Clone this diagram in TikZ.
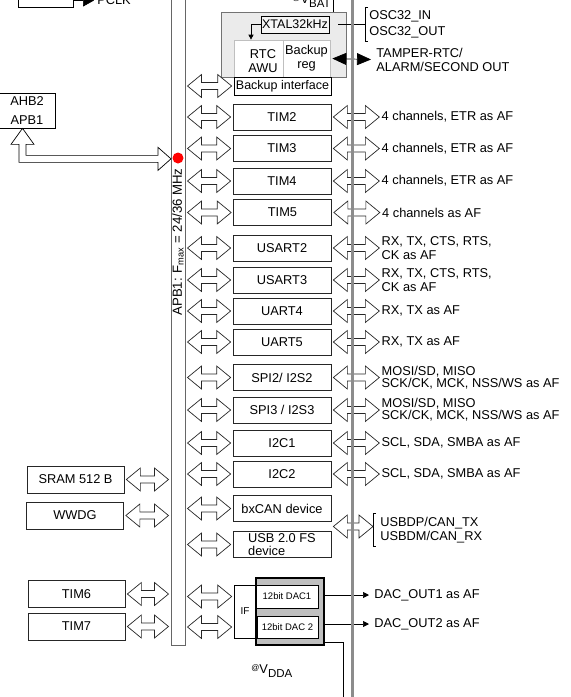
\documentclass[tikz,border=0pt]{standalone}
\usepackage{fontspec}
\setmainfont{Liberation Sans}
\usetikzlibrary{positioning,calc,arrows.meta}
\tikzset{
  box/.style={draw=black!85, fill=white, minimum width=98pt, minimum height=26pt, inner sep=1pt},
  lbox/.style={box, minimum width=97pt, minimum height=27pt},
  sig/.style={inner sep=0pt, align=left, anchor=west},
  dacbox/.style={draw, fill=white, inner sep=0pt, font=\fontsize{9.5}{11}\selectfont},
  fat/.style={draw=black!85, fill=white, to path={let \p1=(\tikztostart), \p2=(\tikztotarget) in
    ({\x1+2pt},\y1) -- ({\x1+16pt},{\y1+11.5pt}) -- ({\x1+16pt},{\y1+3.5pt}) -- ({\x2-16pt},{\y1+3.5pt})
    -- ({\x2-16pt},{\y1+11.5pt}) -- ({\x2-2pt},\y1) -- ({\x2-16pt},{\y1-11.5pt}) -- ({\x2-16pt},{\y1-3.5pt})
    -- ({\x1+16pt},{\y1-3.5pt}) -- ({\x1+16pt},{\y1-11.5pt}) -- cycle}},
}
\begin{document}
\begin{tikzpicture}[x=1pt, y=-1pt, line width=0.7pt,
    every node/.style={font=\fontsize{12.8}{14}\selectfont}]
  \useasboundingbox (0,0) rectangle (571,697);
  \clip (0,0) rectangle (571,697);

  % top, cut off
  \node[draw, minimum width=55pt, minimum height=26pt] (clk) at (45.5,-6) {};
  \node[sig] (pclk) at (97,0.5) {PCLK};
  \draw[-{Triangle[length=11pt,width=12pt]}] (clk.east |- pclk.west) -- ([xshift=-3pt]pclk.west);
  \node[anchor=base east, inner sep=0pt] (vbat) at (331,3) {{\footnotesize\raisebox{3pt}{@}}V\raisebox{-4pt}{\fontsize{11.5}{12}\selectfont BAT}};

  % backup domain
  \node[draw=black!55, fill=black!8, minimum width=125pt, minimum height=65pt] (bkp) at (283.5,44.5) {};
  \draw ([xshift=49.5pt]bkp.north) -- ++(0,-20);
  \node[draw, fill=black!4, minimum width=68pt, minimum height=17pt, inner sep=0pt, font=\fontsize{12.5}{14}\selectfont] (xtal) at (295,24.5) {XTAL32kHz};
  \node[draw=black!25, fill=white, minimum width=49pt, minimum height=37pt] (rtc) at (258.5,58.5) {};
  \node[align=center, inner sep=0pt] (rtctxt) at (263,61) {RTC\\AWU};
  \node[draw=black!25, fill=white, minimum width=47pt, minimum height=37pt, inner sep=0pt, align=center] (reg) at (306.5,58.5) {Backup\\reg};
  \node[draw, fill=white, minimum width=97pt, minimum height=18pt, inner sep=0pt, font=\fontsize{12.5}{14}\selectfont] (bif) at (282.5,86) {Backup interface};
  \draw[-{Triangle[length=5pt,width=5pt]}] (xtal.west) -| ([xshift=-7.5pt]rtc.north);
  \node[sig, inner ysep=3pt] (osc) at (369,24) {OSC32\_IN\\[2pt]OSC32\_OUT};
  \draw ([xshift=-1pt]osc.north west) -- ++(-3,0) |- ([xshift=-1pt]osc.south west);
  \draw ([xshift=9pt]xtal.east) -- ([xshift=-4pt]osc.west |- xtal.east);
  \node[sig] (tamp) at (376,59.5) {TAMPER-RTC/\\ALARM/SECOND OUT};
  \draw[{Triangle[length=14pt,width=12pt]}-{Triangle[length=14pt,width=12pt]}, shorten <=2pt] (reg.east) -- ([xshift=-5pt]tamp.west);

  % APB1 bus
  \node[draw=black!60, line width=1pt, minimum width=14pt, minimum height=655pt, inner sep=0pt] (bus) at (178,317.5) {};
  \node[rotate=90, font=\fontsize{13.2}{15}\selectfont] (apb) at (178,242) {APB1: F\textsubscript{max} = 24/36 MHz};
  \node[circle, fill=red, minimum size=11pt, inner sep=0pt] (dot) at (178,158) {};
  \node[draw, minimum width=56pt, minimum height=35pt, inner sep=0pt, align=center] (ahb) at (27,110.5) {AHB2\\[5pt]APB1};
  \draw[fill=white] ([xshift=-4.5pt]ahb.south) -- ++(11.5,16) -- ++(-8,0) -- ++(0,11) -- ++(132,0) -- ++(0,-8)
    -- ++(13,11.5) -- ++(-13,11.5) -- ++(0,-8) -- ++(-139,0) -- ++(0,-18) -- ++(-8,0) -- cycle;

  % peripherals
  \node[box] (tim2) at (282,117) {TIM2};
  \node[box] (tim3) at (282,148.5) {TIM3};
  \node[box] (tim4) at (282,181) {TIM4};
  \node[box] (tim5) at (282.5,212.5) {TIM5};
  \node[box] (usart2) at (282,248) {USART2};
  \node[box] (usart3) at (282,280) {USART3};
  \node[box] (uart4) at (282,311) {UART4};
  \node[box] (uart5) at (282,342) {UART5};
  \node[box] (spi2) at (282,377.5) {SPI2/ I2S2};
  \node[box] (spi3) at (282,410) {SPI3 / I2S3};
  \node[box] (i2c1) at (282,443) {I2C1};
  \node[box] (i2c2) at (282,474) {I2C2};
  \node[box] (can) at (282,508.5) {bxCAN device};
  \node[box, align=left, font=\fontsize{12.8}{13}\selectfont] (usb) at (282,544.5) {USB 2.0 FS\\device};

  \node[sig, right=50pt of tim2] (tim2af) {4 channels, ETR as AF};
  \node[sig, right=50pt of tim3] (tim3af) {4 channels, ETR as AF};
  \node[sig, right=50pt of tim4] (tim4af) {4 channels, ETR as AF};
  \node[sig, right=50pt of tim5] (tim5af) {4 channels as AF};
  \node[sig, right=50pt of usart2] (usart2af) {RX, TX, CTS, RTS,\\CK as AF};
  \node[sig, right=50pt of usart3] (usart3af) {RX, TX, CTS, RTS,\\CK as AF};
  \node[sig, right=50pt of uart4] (uart4af) {RX, TX as AF};
  \node[sig, right=50pt of uart5] (uart5af) {RX, TX as AF};
  \node[sig, right=50pt of spi2] (spi2af) {MOSI/SD, MISO\\[-2pt]SCK/CK, MCK, NSS/WS as AF};
  \node[sig, right=50pt of spi3] (spi3af) {MOSI/SD, MISO\\[-2pt]SCK/CK, MCK, NSS/WS as AF};
  \node[sig, right=50pt of i2c1] (i2c1af) {SCL, SDA, SMBA as AF};
  \node[sig, right=50pt of i2c2] (i2c2af) {SCL, SDA, SMBA as AF};
  \node[sig, inner ysep=3pt] (canaf) at (380,530) {USBDP/CAN\_TX\\USBDM/CAN\_RX};
  \draw ([xshift=-4pt]canaf.north west) -- ++(-3,0) |- ([xshift=-4pt]canaf.south west);

  \draw[fat] (bus.east |- bif.west) to (bif.west);
  \draw[fat] (bus.east |- tim2.west) to (tim2.west);
  \draw[fat] (bus.east |- tim3.west) to (tim3.west);
  \draw[fat] (bus.east |- tim4.west) to (tim4.west);
  \draw[fat] (bus.east |- tim5.west) to (tim5.west);
  \draw[fat] (bus.east |- usart2.west) to (usart2.west);
  \draw[fat] (bus.east |- usart3.west) to (usart3.west);
  \draw[fat] (bus.east |- uart4.west) to (uart4.west);
  \draw[fat] (bus.east |- uart5.west) to (uart5.west);
  \draw[fat] (bus.east |- spi2.west) to (spi2.west);
  \draw[fat] (bus.east |- spi3.west) to (spi3.west);
  \draw[fat] (bus.east |- i2c1.west) to (i2c1.west);
  \draw[fat] (bus.east |- i2c2.west) to (i2c2.west);
  \draw[fat] (bus.east |- can.west) to (can.west);
  \draw[fat] (bus.east |- usb.west) to (usb.west);

  \draw[fat] (tim2.east) to (tim2af.west);
  \draw[fat] (tim3.east) to (tim3af.west);
  \draw[fat] (tim4.east) to (tim4af.west);
  \draw[fat] (tim5.east) to (tim5af.west);
  \draw[fat] (usart2.east) to (usart2af.west);
  \draw[fat] (usart3.east) to (usart3af.west);
  \draw[fat] (uart4.east) to (uart4af.west);
  \draw[fat] (uart5.east) to (uart5af.west);
  \draw[fat] (spi2.east) to (spi2af.west);
  \draw[fat] (spi3.east) to (spi3af.west);
  \draw[fat] (i2c1.east) to (i2c1af.west);
  \draw[fat] (i2c2.east) to (i2c2af.west);
  \draw[fat] ($(can.south east)!.5!(usb.north east)$) to ([xshift=-5pt]canaf.west);

  % left side
  \node[lbox] (sram) at (75.5,479.5) {SRAM 512 B};
  \node[lbox] (wwdg) at (75,515.5) {WWDG};
  \node[lbox] (tim6) at (76.5,594) {TIM6};
  \node[lbox] (tim7) at (76.5,626.5) {TIM7};
  \draw[fat] (sram.east) to (bus.west |- sram.east);
  \draw[fat] (wwdg.east) to (bus.west |- wwdg.east);
  \draw[fat] (tim6.east) to (bus.west |- tim6.east);
  \draw[fat] (tim7.east) to (bus.west |- tim7.east);

  % DAC
  \node[draw, minimum width=22pt, minimum height=53pt, inner sep=0pt, font=\fontsize{10}{12}\selectfont] (if) at (245,611.5) {IF};
  \node[draw, fill=black!25, line width=1.2pt, minimum width=68pt, minimum height=67pt] (dac) at (290,611.5) {};
  \node[dacbox, minimum width=62pt, minimum height=23pt] (dac1) at (287,596.5) {12bit DAC1};
  \node[dacbox, minimum width=61pt, minimum height=22pt] (dac2) at (287.5,627) {12bit DAC 2};
  \draw[fat] (bus.east |- dac1.west) to (if.west |- dac1.west);
  \draw[fat] (bus.east |- dac2.west) to (if.west |- dac2.west);
  \node[sig] (out1) at (374,595) {DAC\_OUT1 as AF};
  \node[sig] (out2) at (374,624) {DAC\_OUT2 as AF};
  \draw[-{Triangle[length=6pt,width=6pt]}] (dac.east |- out1.west) -- ([xshift=-5pt]out1.west);
  \draw[-{Triangle[length=6pt,width=6pt]}] (dac.east |- out2.west) -- ([xshift=-5pt]out2.west);
  \node[anchor=base west, inner sep=0pt] (vdda) at (251,673) {{\footnotesize\raisebox{3pt}{@}}V\raisebox{-4pt}{\fontsize{11.5}{12}\selectfont DDA}};
  \coordinate (vddaend) at (343,710);
  \draw ([yshift=3pt]dac.south east) -| (vddaend);

  % right bus
  \coordinate (rtop) at (352,-5);
  \coordinate (rbot) at (352,705);
  \draw[black!45, line width=3pt] (rtop) -- (rbot);
\end{tikzpicture}
\end{document}
